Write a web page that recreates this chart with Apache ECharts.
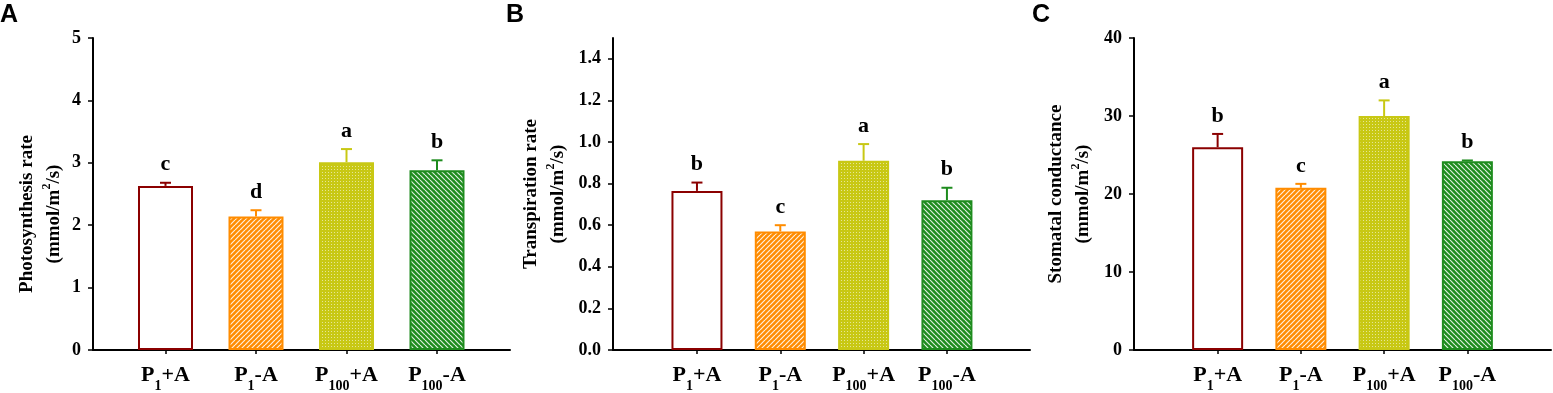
<!DOCTYPE html>
<html>
<head>
<meta charset="utf-8">
<script src="https://cdn.jsdelivr.net/npm/echarts@6/dist/echarts.min.js"></script>
<style>
html, body { margin: 0; padding: 0; background: #fff; }
#chart { width: 1553px; height: 393px; }
</style>
</head>
<body>
<div id="chart"></div>
<script>
// 数据
var categories = ['P1+A', 'P1-A', 'P100+A', 'P100-A'];

var photoMean = [2.63, 2.14, 3.01, 2.88];
var photoErr = [0.05, 0.10, 0.21, 0.16];
var photoLetters = ['c', 'd', 'a', 'b'];
var photoTicks = [0, 1, 2, 3, 4, 5];

var transMean = [0.765, 0.57, 0.91, 0.72];
var transErr = [0.04, 0.03, 0.08, 0.06];
var transLetters = ['b', 'c', 'a', 'b'];
var transTicks = [0, 0.2, 0.4, 0.6, 0.8, 1.0, 1.2, 1.4];

var stomMean = [26.0, 20.8, 30.0, 24.2];
var stomErr = [1.7, 0.5, 2.0, 0.1];
var stomLetters = ['b', 'c', 'a', 'b'];
var stomTicks = [0, 10, 20, 30, 40];

var SERIF = '"Liberation Serif", "Times New Roman", serif';
var edgeColors = ['#8b0000', '#ff8c00', '#c8c814', '#1e8c1e'];

// 填充纹理
function hatch(color, dir) {
    var c = document.createElement('canvas');
    c.width = c.height = 5;
    var g = c.getContext('2d');
    g.fillStyle = color;
    g.fillRect(0, 0, 5, 5);
    g.strokeStyle = 'rgba(255,255,255,0.85)';
    g.lineWidth = 1.2;
    for (var k = -5; k <= 5; k += 5) {
        g.beginPath();
        if (dir > 0) { g.moveTo(k, 5); g.lineTo(k + 5, 0); }
        else { g.moveTo(k, 0); g.lineTo(k + 5, 5); }
        g.stroke();
    }
    return { image: c, repeat: 'repeat' };
}
function dots(color) {
    var c = document.createElement('canvas');
    c.width = c.height = 3;
    var g = c.getContext('2d');
    g.fillStyle = color;
    g.fillRect(0, 0, 3, 3);
    g.fillStyle = 'rgba(255,255,255,0.55)';
    g.fillRect(1, 1, 1, 1);
    return { image: c, repeat: 'repeat' };
}
var fills = ['#ffffff', hatch('#ff8c00', 1), dots('#c8c814'), hatch('#1e8c1e', -1)];

function catFmt(v) {
    var m = v.match(/^P(\d+)(.*)$/);
    return '{m|P}{s|' + m[1] + '}{m|' + m[2] + '}';
}

var panels = [
    { letter: 'A', letterLeft: 0, left: 93, inLeft: 120.25, inWidth: 362, barWidth: 55,
      max: 5, interval: 1, ticks: photoTicks, mean: photoMean, err: photoErr, letters: photoLetters,
      name: 'Photosynthesis rate\n(mmol/m{sup|2}/s)', nameGap: 25, namePad: [0, 40, 0, 0], digits: 0 },
    { letter: 'B', letterLeft: 506, left: 613, inLeft: 655.3, inWidth: 333.3, barWidth: 51,
      max: 1.5, interval: 0.2, ticks: transTicks, mean: transMean, err: transErr, letters: transLetters,
      name: 'Transpiration rate\n(mmol/m{sup|2}/s)', nameGap: 41, namePad: [0, 0, 0, 0], digits: 1 },
    { letter: 'C', letterLeft: 1032, left: 1134, inLeft: 1176, inWidth: 333, barWidth: 51,
      max: 40, interval: 10, ticks: stomTicks, mean: stomMean, err: stomErr, letters: stomLetters,
      name: 'Stomatal conductance\n(mmol/m{sup|2}/s)', nameGap: 37, namePad: [0, 0, 0, 0], digits: 0 }
];

var option = { animation: false, title: [], grid: [], xAxis: [], yAxis: [], series: [] };

panels.forEach(function (p, k) {
    var gw = 2 * k, gn = 2 * k + 1;
    option.title.push({
        text: p.letter, left: p.letterLeft, top: 3, padding: 0,
        textStyle: { fontFamily: '"Liberation Sans", Arial, sans-serif', fontWeight: 'bold', fontSize: 25, color: '#000' }
    });
    option.grid.push({ left: p.left, top: 38, width: 417, height: 312 });
    option.grid.push({ left: p.inLeft, top: 38, width: p.inWidth, height: 312 });

    option.xAxis.push({
        type: 'value', gridIndex: gw, min: 0, max: 1,
        axisLine: { show: true, lineStyle: { color: '#000', width: 2 } },
        axisTick: { show: false }, axisLabel: { show: false }, splitLine: { show: false }
    });
    option.xAxis.push({
        type: 'category', gridIndex: gn, data: categories,
        axisLine: { show: false },
        axisTick: { show: true, alignWithLabel: true, length: 4, lineStyle: { color: '#000', width: 1.5 } },
        axisLabel: {
            interval: 0, margin: 7, formatter: catFmt,
            rich: {
                m: { fontFamily: SERIF, fontWeight: 'bold', fontSize: 22, color: '#000' },
                s: { fontFamily: SERIF, fontWeight: 'bold', fontSize: 14, color: '#000', padding: [22, 0, 0, 0] }
            }
        }
    });

    option.yAxis.push({
        type: 'value', gridIndex: gw, min: 0, max: p.max, interval: p.interval,
        axisLine: { show: true, lineStyle: { color: '#000', width: 2 } },
        axisTick: { show: true, length: 5, customValues: p.ticks, lineStyle: { color: '#000', width: 1.5 } },
        axisLabel: {
            customValues: p.ticks, margin: 12,
            fontFamily: SERIF, fontWeight: 'bold', fontSize: 18, color: '#000',
            formatter: function (v) { return v.toFixed(p.digits); }
        },
        splitLine: { show: false },
        name: p.name, nameLocation: 'middle', nameRotate: 90, nameGap: p.nameGap,
        nameTextStyle: {
            fontFamily: SERIF, fontWeight: 'bold', fontSize: 19, lineHeight: 27, color: '#000', padding: p.namePad,
            rich: { sup: { fontFamily: SERIF, fontWeight: 'bold', fontSize: 12, color: '#000', verticalAlign: 'top' } }
        }
    });
    option.yAxis.push({ type: 'value', gridIndex: gn, min: 0, max: p.max, show: false });

    option.series.push({
        type: 'bar', xAxisIndex: gn, yAxisIndex: gn, barWidth: p.barWidth,
        data: p.mean.map(function (v, i) {
            return { value: v, itemStyle: { color: fills[i], borderColor: edgeColors[i], borderWidth: 2 } };
        })
    });
    option.series.push({
        type: 'custom', xAxisIndex: gn, yAxisIndex: gn, z: 5,
        data: p.mean.map(function (v, i) { return [i, v, p.err[i]]; }),
        renderItem: function (params, api) {
            var i = api.value(0);
            var base = api.coord([i, api.value(1)]);
            var top = api.coord([i, api.value(1) + api.value(2)]);
            var col = edgeColors[i];
            return {
                type: 'group',
                children: [
                    { type: 'line', shape: { x1: base[0], y1: base[1], x2: top[0], y2: top[1] }, style: { stroke: col, lineWidth: 2 } },
                    { type: 'line', shape: { x1: top[0] - 5.5, y1: top[1], x2: top[0] + 5.5, y2: top[1] }, style: { stroke: col, lineWidth: 2 } },
                    { type: 'text', x: top[0], y: top[1] - 7,
                      style: { text: p.letters[i], fill: '#000', font: 'bold 22px ' + SERIF, align: 'center', verticalAlign: 'bottom' } }
                ]
            };
        }
    });
});

var chart = echarts.init(document.getElementById('chart'));
chart.setOption(option);
window.onresize = function () { chart.resize(); };
</script>
</body>
</html>
